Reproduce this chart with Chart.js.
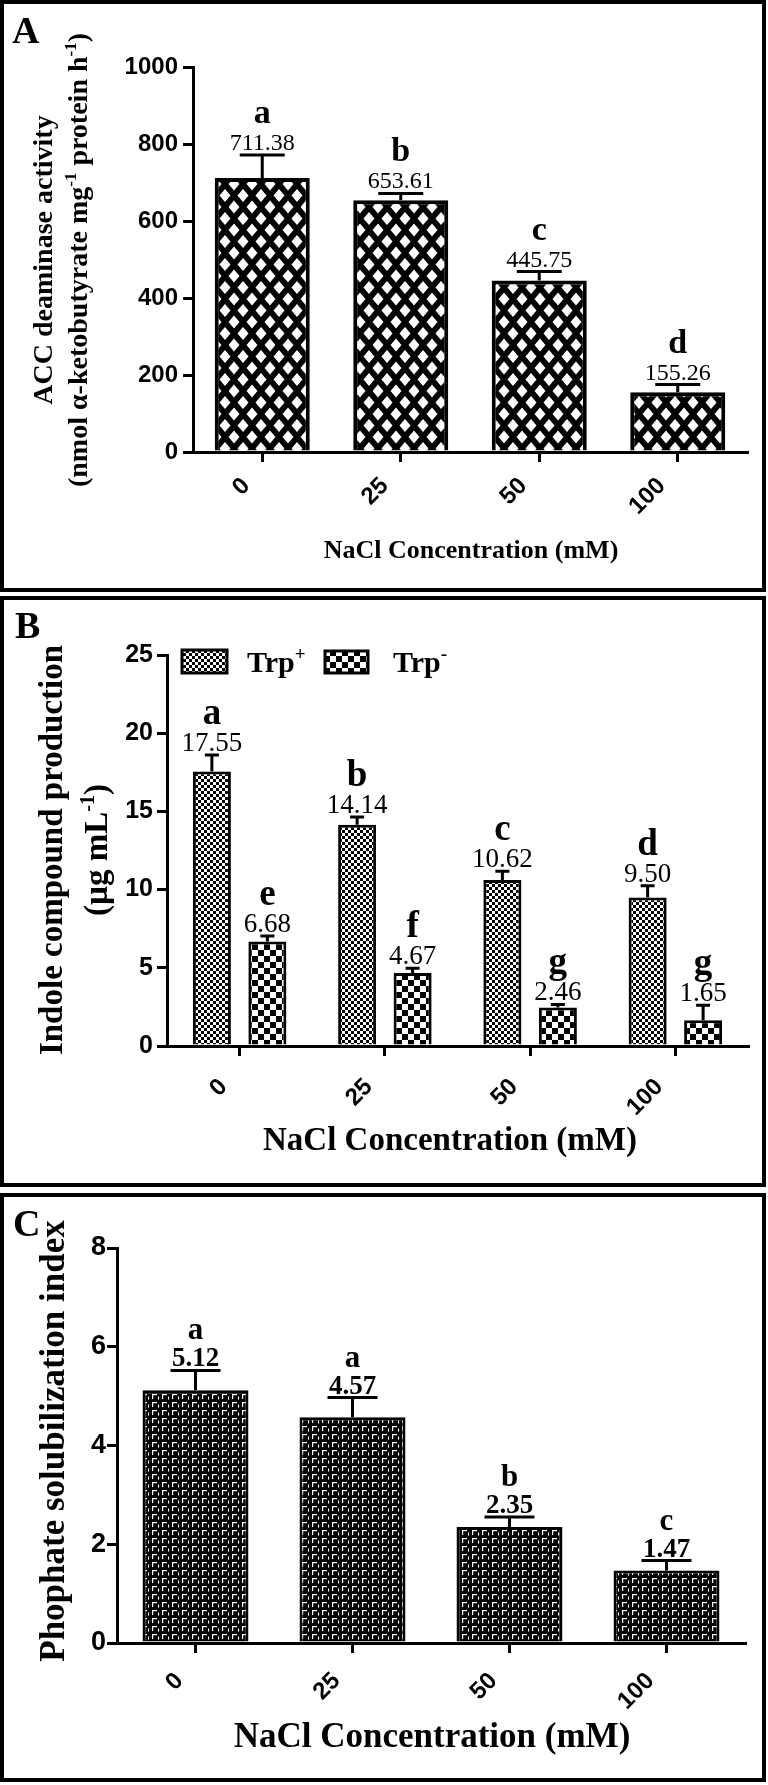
<!DOCTYPE html>
<html>
<head>
<meta charset="utf-8">
<script src="https://cdn.jsdelivr.net/npm/chart.js@4.4.1/dist/chart.umd.min.js"></script>
<style>
  html, body { margin: 0; padding: 0; background: #fff; }
  body { position: relative; width: 768px; height: 1785px; overflow: hidden; }
  canvas { position: absolute; left: 0; }
  .frame { position: absolute; left: 0; width: 766px; border: 4px solid #000; box-sizing: border-box; pointer-events: none; }
</style>
</head>
<body>
<canvas id="panelA" width="768" height="592" style="top:0"></canvas>
<canvas id="panelB" width="768" height="591" style="top:596px"></canvas>
<canvas id="panelC" width="768" height="589" style="top:1193px"></canvas>
<div class="frame" style="top:0;height:592px"></div>
<div class="frame" style="top:596px;height:591px"></div>
<div class="frame" style="top:1193px;height:589px"></div>
<script>
const SERIF = '"Liberation Serif", "Times New Roman", serif';
const SANS = '"Liberation Sans", Arial, sans-serif';

// NaCl levels (mM), shared by all three panels
const naclLevels = ['0', '25', '50', '100'];

// A: ACC deaminase activity
const accActivity = [711.38, 653.61, 445.75, 155.26];
const accError = [60, 18, 23, 20];
const accLetters = ['a', 'b', 'c', 'd'];

// B: indole compounds, with and without tryptophan
const indoleTrpPlus = [17.55, 14.14, 10.62, 9.50];
const indoleTrpPlusError = [1.05, 0.5, 0.55, 0.75];
const indoleTrpPlusLetters = ['a', 'b', 'c', 'd'];
const indoleTrpMinus = [6.68, 4.67, 2.46, 1.65];
const indoleTrpMinusError = [0.35, 0.3, 0.2, 0.95];
const indoleTrpMinusLetters = ['e', 'f', 'g', 'g'];
const indoleSeries = ['Trp', 'Trp'];
const indoleSeriesSup = ['+', '-'];

// C: phosphate solubilization index
const psIndex = [5.12, 4.57, 2.35, 1.47];
const psError = [0.4, 0.4, 0.2, 0.2];
const psLetters = ['a', 'a', 'b', 'c'];

// fill patterns, one per bar style in the figure
function makePattern(kind) {
    const c = document.createElement('canvas');
    const g = c.getContext('2d');
    if (kind === 'lattice') {
        c.width = 18; c.height = 23;
        g.fillStyle = '#000'; g.fillRect(0, 0, 18, 23);
        g.fillStyle = '#fff';
        [[9, 11.5], [0, 0], [18, 0], [0, 23], [18, 23]].forEach(([cx, cy]) => {
            g.beginPath();
            g.moveTo(cx - 5.5, cy); g.lineTo(cx, cy - 6.5); g.lineTo(cx + 5.5, cy); g.lineTo(cx, cy + 6.5);
            g.closePath(); g.fill();
        });
    } else if (kind === 'fine' || kind === 'coarse') {
        const s = kind === 'fine' ? 3 : 6;
        c.width = 2 * s; c.height = 2 * s;
        g.fillStyle = '#fff'; g.fillRect(0, 0, 2 * s, 2 * s);
        g.fillStyle = '#000';
        g.fillRect(0, 0, s, s); g.fillRect(s, s, s, s);
    } else {
        c.width = 10; c.height = 8;
        g.fillStyle = '#000'; g.fillRect(0, 0, 10, 8);
        g.fillStyle = '#fff';
        g.fillRect(2, 1, 5, 1.2);
        g.fillRect(2, 1, 1.2, 5);
        g.fillRect(8, 3.5, 1.1, 3);
    }
    return g.createPattern(c, 'repeat');
}

// text with superscript parts: segs = [[text, isSup], ...]
function drawRich(ctx, segs, x, baseline, size, align) {
    const supSize = Math.round(size * 0.62);
    let total = 0;
    segs.forEach(([t, sup]) => {
        ctx.font = `bold ${sup ? supSize : size}px ${SERIF}`;
        total += ctx.measureText(t).width;
    });
    let cx = align === 'left' ? x : x - total / 2;
    ctx.textAlign = 'left';
    ctx.textBaseline = 'alphabetic';
    segs.forEach(([t, sup]) => {
        ctx.font = `bold ${sup ? supSize : size}px ${SERIF}`;
        ctx.fillText(t, cx, sup ? baseline - size * 0.4 : baseline);
        cx += ctx.measureText(t).width;
    });
}

const decor = {
    id: 'decor',
    afterDraw(chart, args, o) {
        const ctx = chart.ctx;
        const y = chart.scales.y;
        ctx.save();
        ctx.fillStyle = '#000';
        ctx.strokeStyle = '#000';

        ctx.font = `bold 38px ${SERIF}`;
        ctx.textAlign = 'left';
        ctx.textBaseline = 'alphabetic';
        ctx.fillText(o.panel, o.panelPos[0], o.panelPos[1]);

        o.yTitle.lines.forEach((segs, i) => {
            ctx.save();
            ctx.translate(o.yTitle.xs[i], o.yTitle.cy);
            ctx.rotate(-Math.PI / 2);
            drawRich(ctx, segs, 0, o.yTitle.size * 0.3, o.yTitle.size, 'center');
            ctx.restore();
        });

        drawRich(ctx, [[o.xTitle.text]], o.xTitle.cx, o.xTitle.baseline, o.xTitle.size, 'center');

        chart.data.datasets.forEach((ds, di) => {
            const meta = chart.getDatasetMeta(di);
            meta.data.forEach((bar, i) => {
                const v = ds.data[i];
                const top = y.getPixelForValue(v + ds.errors[i]);
                const base = y.getPixelForValue(v);
                ctx.lineWidth = 3;
                ctx.beginPath();
                ctx.moveTo(bar.x, base); ctx.lineTo(bar.x, top);
                ctx.moveTo(bar.x - o.capWidth / 2, top); ctx.lineTo(bar.x + o.capWidth / 2, top);
                ctx.stroke();
                ctx.textAlign = 'center';
                ctx.textBaseline = 'alphabetic';
                ctx.font = o.valueFont;
                ctx.fillText(v.toFixed(2), bar.x, top - o.valueGap);
                ctx.font = o.letterFont;
                ctx.fillText(ds.letters[i], bar.x, top - o.valueGap - o.letterGap);
            });

            if (o.legend) {
                const [bx, by, bw, bh] = o.legend.boxes[di];
                ctx.fillStyle = ds.backgroundColor;
                ctx.fillRect(bx, by, bw, bh);
                ctx.fillStyle = '#000';
                ctx.lineWidth = 3;
                ctx.strokeRect(bx, by, bw, bh);
                drawRich(ctx, [[ds.legendParts[0]], [ds.legendParts[1], true]],
                    o.legend.textX[di], o.legend.baseline, o.legend.size, 'left');
            }
        });
        ctx.restore();
    }
};

function buildChart(id, cfg) {
    return new Chart(document.getElementById(id), {
        type: 'bar',
        data: { labels: naclLevels, datasets: cfg.datasets },
        options: {
            responsive: false,
            animation: false,
            layout: { padding: cfg.padding },
            plugins: {
                legend: { display: false },
                tooltip: { enabled: false },
                decor: cfg.decor
            },
            scales: {
                x: {
                    offset: true,
                    grid: { display: true, drawOnChartArea: false, drawTicks: true, offset: false, tickLength: 10, lineWidth: 3, color: '#000' },
                    border: { display: true, color: '#000', width: 3 },
                    ticks: {
                        color: '#000',
                        font: { family: SANS, size: 24, weight: 'bold' },
                        minRotation: 45, maxRotation: 45, autoSkip: false,
                        labelOffset: -16,
                        padding: cfg.xTickPad
                    },
                    afterFit: s => { s.height = cfg.xHeight; }
                },
                y: {
                    min: 0,
                    max: cfg.yMax,
                    ticks: {
                        stepSize: cfg.yStep,
                        color: '#000',
                        font: { family: SANS, size: cfg.yTickSize, weight: 'bold' },
                        padding: cfg.yTickPad,
                        callback: v => String(v)
                    },
                    grid: { drawOnChartArea: false, drawTicks: true, tickLength: 10, lineWidth: 3, color: '#000' },
                    border: { display: true, color: '#000', width: 3 },
                    afterFit: s => { s.width = cfg.yWidth; }
                }
            }
        },
        plugins: [decor]
    });
}

// A
buildChart('panelA', {
    padding: { left: 0, top: 67, right: 21, bottom: 0 },
    yWidth: 193, xHeight: 140, yMax: 1000, yStep: 200, yTickSize: 24, yTickPad: 5, xTickPad: 10,
    datasets: [{
        label: 'ACC deaminase activity',
        data: accActivity,
        errors: accError,
        letters: accLetters,
        backgroundColor: makePattern('lattice'),
        borderColor: '#000',
        borderWidth: 4,
        categoryPercentage: 1,
        barPercentage: 0.686
    }],
    decor: {
        panel: 'A', panelPos: [12, 43],
        yTitle: {
            lines: [
                [['ACC deaminase activity']],
                [['(nmol \u03b1-ketobutyrate mg'], ['-1', true], [' protein h'], ['-1', true], [')']]
            ],
            xs: [44, 79], cy: 260, size: 28
        },
        xTitle: { text: 'NaCl Concentration (mM)', cx: 471, baseline: 558, size: 26 },
        capWidth: 45, valueGap: 5, letterGap: 27,
        valueFont: `24px ${SERIF}`, letterFont: `bold 34px ${SERIF}`
    }
});

// B
const patFine = makePattern('fine');
const patCoarse = makePattern('coarse');
buildChart('panelB', {
    padding: { left: 0, top: 59, right: 20, bottom: 0 },
    yWidth: 167, xHeight: 141, yMax: 25, yStep: 5, yTickSize: 25, yTickPad: 4, xTickPad: 17,
    datasets: [{
        label: 'Trp+',
        legendParts: [indoleSeries[0], indoleSeriesSup[0]],
        data: indoleTrpPlus,
        errors: indoleTrpPlusError,
        letters: indoleTrpPlusLetters,
        backgroundColor: patFine,
        borderColor: '#000',
        borderWidth: 3,
        categoryPercentage: 0.764,
        barPercentage: 0.685
    }, {
        label: 'Trp-',
        legendParts: [indoleSeries[1], indoleSeriesSup[1]],
        data: indoleTrpMinus,
        errors: indoleTrpMinusError,
        letters: indoleTrpMinusLetters,
        backgroundColor: patCoarse,
        borderColor: '#000',
        borderWidth: 3,
        categoryPercentage: 0.764,
        barPercentage: 0.685
    }],
    decor: {
        panel: 'B', panelPos: [15, 42],
        yTitle: {
            lines: [
                [['Indole compound production']],
                [['(\u00b5g mL'], ['-1', true], [')']]
            ],
            xs: [52, 97], cy: 254, size: 33
        },
        xTitle: { text: 'NaCl Concentration (mM)', cx: 450, baseline: 554, size: 33 },
        capWidth: 14, valueGap: 4, letterGap: 27,
        valueFont: `27px ${SERIF}`, letterFont: `bold 37px ${SERIF}`,
        legend: { boxes: [[182, 54, 45, 23], [325, 55, 43, 22]], textX: [247, 393], baseline: 76, size: 30 }
    }
});

// C
buildChart('panelC', {
    padding: { left: 0, top: 55, right: 23, bottom: 0 },
    yWidth: 117, xHeight: 139, yMax: 8, yStep: 2, yTickSize: 27, yTickPad: 1, xTickPad: 14,
    datasets: [{
        label: 'Phosphate solubilization index',
        data: psIndex,
        errors: psError,
        letters: psLetters,
        backgroundColor: makePattern('weave'),
        borderColor: '#000',
        borderWidth: 3,
        categoryPercentage: 1,
        barPercentage: 0.675
    }],
    decor: {
        panel: 'C', panelPos: [13, 43],
        yTitle: { lines: [[['Phophate solubilization index']]], xs: [53], cy: 248, size: 35 },
        xTitle: { text: 'NaCl Concentration (mM)', cx: 432, baseline: 554, size: 35 },
        capWidth: 50, valueGap: 4, letterGap: 27,
        valueFont: `bold 27px ${SERIF}`, letterFont: `bold 31px ${SERIF}`
    }
});
</script>
</body>
</html>
